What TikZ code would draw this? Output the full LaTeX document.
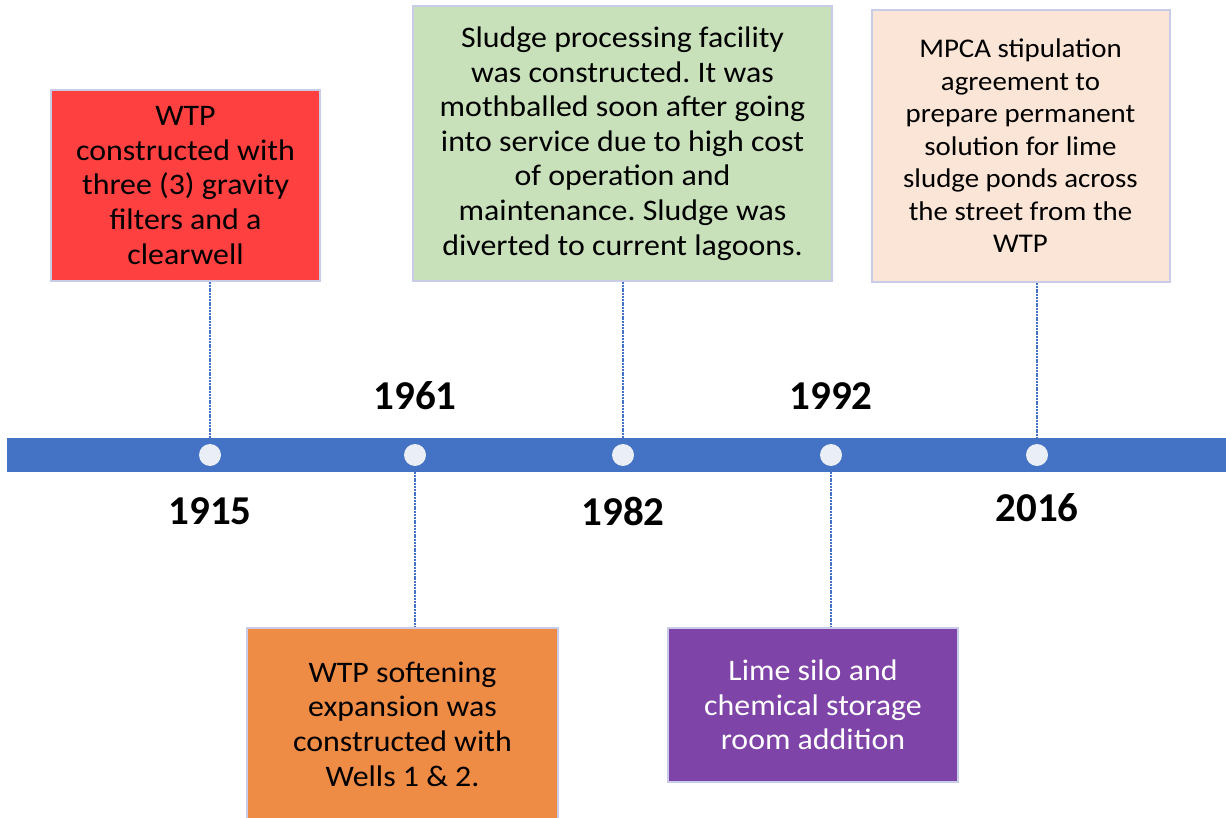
\documentclass[tikz,border=0pt]{standalone}
\usepackage{fontspec}
\setmainfont{Carlito}
\newfontfamily\boxfont[FakeStretch=1.07]{Carlito}
\frenchspacing
\definecolor{barblue}{HTML}{4472C4}
\definecolor{dotfill}{HTML}{E9EEF7}
\definecolor{boxedge}{HTML}{C8CCE6}
\definecolor{cred}{HTML}{FF4040}
\definecolor{corange}{HTML}{EE8B45}
\definecolor{cgreen}{HTML}{C9E1BA}
\definecolor{cpurple}{HTML}{7E44A8}
\definecolor{cpeach}{HTML}{FBE5D6}
\begin{document}
\begin{tikzpicture}[x=1pt,y=-1pt,
  evbox/.style={draw=boxedge, line width=2pt, inner sep=0pt, align=center,
    font=\boxfont\fontsize{29.8}{34.6}\selectfont},
  yearlbl/.style={font=\fontsize{41}{48}\selectfont\bfseries, inner sep=0pt},
  dot/.style={circle, fill=dotfill, minimum size=22pt, inner sep=0pt},
  link/.style={draw=barblue, line width=1.2pt, dash pattern=on 2pt off 0.8pt}]
\useasboundingbox (0,0) rectangle (1226,818);
% bar
\fill[barblue] (7,438) rectangle (1226,472);
\node[dot] (d1) at (210,455) {};
\node[dot] (d2) at (415,455) {};
\node[dot] (d3) at (623,455) {};
\node[dot] (d4) at (831,455) {};
\node[dot] (d5) at (1037,455) {};
% years
\node[yearlbl] (y1) at (210,511) {1915};
\node[yearlbl] (y2) at (415,396) {1961};
\node[yearlbl] (y3) at (623,511) {1982};
\node[yearlbl] (y4) at (831,396) {1992};
\node[yearlbl] (y5) at (1037,508) {2016};
% boxes
\node[evbox, fill=cred, minimum width=269pt, minimum height=191pt] (b1) at (185.5,185.5)
  {WTP\\constructed with\\three (3) gravity\\filters and a\\clearwell};
\node[evbox, fill=corange, minimum width=311pt, minimum height=192pt] (b2) at (402.5,724)
  {WTP softening\\expansion was\\constructed with\\Wells 1 \& 2.};
\node[evbox, fill=cgreen, minimum width=419pt, minimum height=275pt] (b3) at (622.5,143.5)
  {Sludge processing facility\\was constructed. It was\\mothballed soon after going\\into service due to high cost\\of operation and\\maintenance. Sludge was\\diverted to current lagoons.};
\node[evbox, fill=cpurple, text=white, minimum width=290pt, minimum height=154pt] (b4) at (813,705)
  {Lime silo and\\chemical storage\\room addition};
\node[evbox, fill=cpeach, font=\boxfont\fontsize{27}{32.5}\selectfont, minimum width=298pt, minimum height=272pt] (b5) at (1020.5,146)
  {MPCA stipulation\\agreement to\\prepare permanent\\solution for lime\\sludge ponds across\\the street from the\\WTP};
% connectors
\coordinate (t1) at (210,438);
\coordinate (t2) at (415,472);
\coordinate (t3) at (623,438);
\coordinate (t4) at (831,472);
\coordinate (t5) at (1037,438);
\draw[link] (b1.south -| t1) -- (t1);
\draw[link] (t2) -- (b2.north -| t2);
\draw[link] (b3.south -| t3) -- (t3);
\draw[link] (t4) -- (b4.north -| t4);
\draw[link] (b5.south -| t5) -- (t5);
\end{tikzpicture}
\end{document}
